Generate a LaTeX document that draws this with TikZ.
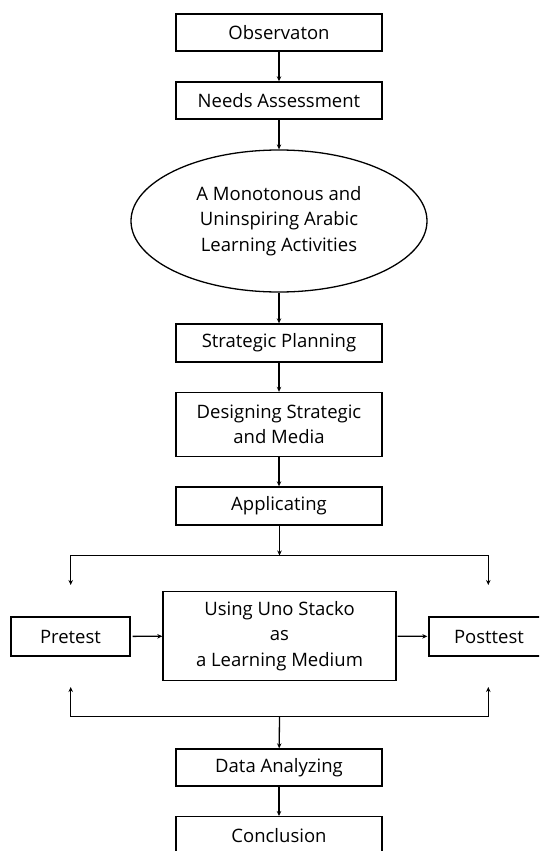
\documentclass[tikz,border=0pt]{standalone}
\usepackage{fontspec}
\setmainfont{Open Sans}
\usetikzlibrary{shapes.geometric,arrows.meta}
\begin{document}
\begin{tikzpicture}[x=1pt,y=-1pt,
  txt/.style={font=\fontsize{18.5}{25.5}\selectfont},
  box/.style={txt,draw,line width=1.4pt,minimum width=206pt,inner sep=0pt,align=center},
  oval/.style={txt,draw,ellipse,line width=1.3pt,inner sep=0pt,align=center},
  flow/.style={line width=1.3pt,-{Stealth[length=5pt,width=4.5pt]}}]
\useasboundingbox (0,0) rectangle (539,851);
\clip (0,0) rectangle (539,851);

% main column
\node[box,minimum height=37pt] (obs) at (279,32.5) {Observaton};
\node[box,minimum height=37pt] (needs) at (279,100.5) {Needs Assessment};
\node[oval,minimum width=296pt,minimum height=142pt] (prob) at (279,221)
  {A Monotonous and\\Uninspiring Arabic\\Learning Activities};
\node[box,minimum height=38pt] (plan) at (279,343) {Strategic Planning};
\node[box,minimum height=64pt] (design) at (279,424.5) {Designing Strategic\\and Media};
\node[box,minimum height=38pt] (apply) at (279,506) {Applicating};

% experiment row
\node[box,minimum width=119pt,minimum height=39pt] (pre) at (70.5,636.5) {Pretest};
\node[box,minimum width=233pt,minimum height=89pt] (uno) at (279.5,636)
  {Using Uno Stacko\\as\\a Learning Medium};
\node[box,minimum width=120pt,minimum height=39pt] (post) at (489,636.5) {Posttest};

% closing steps
\node[box,minimum height=37pt] (data) at (279,767.5) {Data Analyzing};
\node[box,minimum height=37pt] (conc) at (279,835.2) {Conclusion};

% branch and merge points
\coordinate (split) at (279.5,555.5);
\coordinate (preIn) at (70.7,585);
\coordinate (postIn) at (488.3,585);
\coordinate (merge) at (279.5,716.7);
\coordinate (preOut) at (70.7,687);
\coordinate (postOut) at (488.3,687);

% connectors
\draw[flow] (obs) -- (needs);
\draw[flow] (needs) -- (prob);
\draw[flow] (prob) -- (plan);
\draw[flow] (plan) -- (design);
\draw[flow] (design) -- (apply);
\draw[flow] (apply.south -| split) -- (split);
\draw[flow] (split) -| (preIn);
\draw[flow] (split) -| (postIn);
\draw[flow,shorten <=2pt] (pre) -- (uno);
\draw[flow,shorten <=1pt,shorten >=1pt] (uno) -- (post);
\draw[flow] (merge) -| (preOut);
\draw[flow] (merge) -| (postOut);
\draw[flow] (merge) -- (data);
\draw[flow] (data) -- (conc);
\end{tikzpicture}
\end{document}
